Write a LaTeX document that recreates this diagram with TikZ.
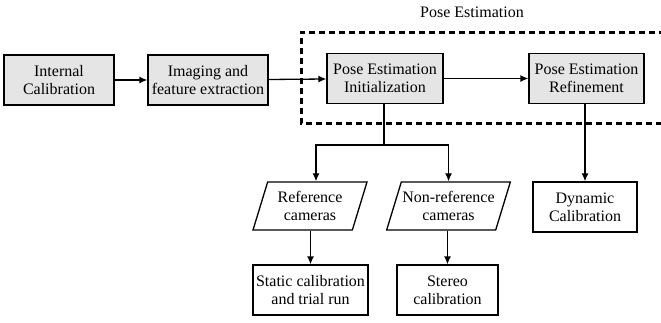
\documentclass[tikz,border=0pt]{standalone}
\usepackage{fontspec}
\setmainfont{Liberation Serif}
\usetikzlibrary{shapes.geometric,arrows.meta}
\begin{document}
\begin{tikzpicture}[x=1pt,y=-1pt,
  stage/.style={draw,line width=1.3pt,fill=gray!20,align=center,inner sep=1pt,minimum height=50pt,font=\fontsize{16}{18}\selectfont},
  result/.style={draw,line width=1.3pt,fill=white,align=center,inner sep=1pt,minimum height=50pt,font=\fontsize{16}{18}\selectfont},
  cams/.style={draw,line width=1.3pt,trapezium,trapezium left angle=65,trapezium right angle=115,trapezium stretches body,align=center,inner sep=1pt,minimum height=48pt,minimum width=114pt,font=\fontsize{16}{18}\selectfont},
  flow/.style={->,>={Latex[length=8pt,width=7pt]},line width=1.3pt}]
\useasboundingbox (0,0) rectangle (661,322);
% pose estimation frame
\draw[line width=3pt,dash pattern=on 6pt off 4pt] (665,32) -| (301,123) -- (665,123);
\node[font=\fontsize{16}{18}\selectfont] (title) at (472,12) {Pose Estimation};
% main row
\node[stage,minimum width=110pt] (intcal) at (59,80) {Internal\\Calibration};
\node[stage,minimum width=120pt] (imfeat) at (208,80) {Imaging and\\feature extraction};
\node[stage,minimum width=116pt] (poseinit) at (385,78.5) {Pose Estimation\\Initialization};
\node[stage,minimum width=115pt] (poseref) at (586.5,78.5) {Pose Estimation\\Refinement};
% camera groups
\node[cams] (refcam) at (310,206) {Reference\\cameras};
\node[cams] (nonrefcam) at (448.5,206) {Non-reference\\cameras};
\node[result,minimum width=104pt] (dyncal) at (585,207) {Dynamic\\Calibration};
\node[result,minimum width=115pt] (statcal) at (310.5,290) {Static calibration\\and trial run};
\node[result,minimum width=101pt] (stereo) at (447.5,290) {Stereo\\calibration};
\coordinate (split) at (384,145);
% connectors
\draw[flow] (intcal) -- (imfeat);
\draw[flow] (imfeat) -- (poseinit);
\draw[flow] (poseinit) -- (poseref);
\draw[line width=1.3pt] (poseinit.south -| split) -- (split);
\draw[flow] (split) -| ([xshift=6pt]refcam.north);
\draw[flow] (split) -| (nonrefcam.north);
\draw[flow] (refcam.south -| statcal) -- (statcal);
\draw[flow] (nonrefcam.south -| stereo) -- (stereo);
\draw[flow] (poseref.south -| dyncal) -- (dyncal);
\end{tikzpicture}
\end{document}
